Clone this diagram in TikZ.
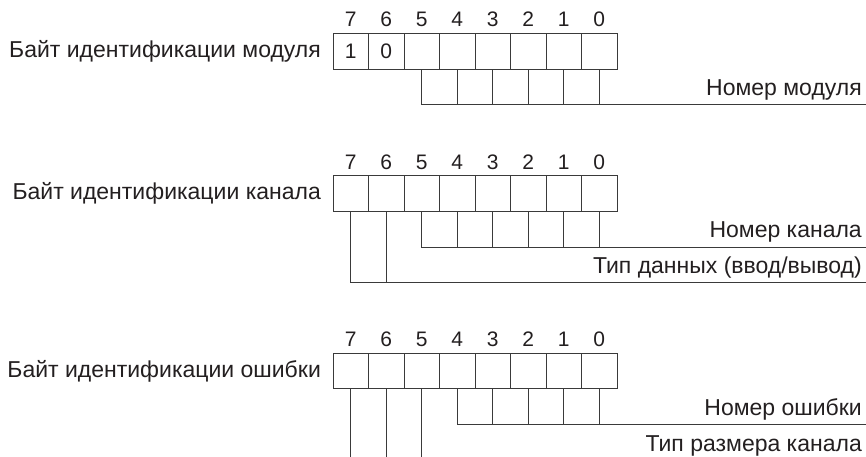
\documentclass[tikz,border=0pt]{standalone}
\usepackage{fontspec}
\setmainfont{Liberation Sans}
\definecolor{ink}{HTML}{231F20}
\definecolor{wireink}{HTML}{3A3A3A}
\begin{document}
\begin{tikzpicture}[x=1pt,y=-1pt,
  cell/.style={draw=wireink,line width=0.8pt,minimum width=35.5pt,minimum height=35.6pt,inner sep=0pt,outer sep=0pt},
  cellval/.style={anchor=base,inner sep=0pt,font=\fontsize{21}{25}\selectfont,text=ink},
  bitnum/.style={anchor=base,inner sep=0pt,font=\fontsize{21}{25}\selectfont,text=ink},
  leftlabel/.style={anchor=east,inner sep=0pt,font=\fontsize{23}{27}\selectfont,text=ink},
  rightlabel/.style={anchor=base east,inner sep=0pt,font=\fontsize{23}{27}\selectfont,text=ink},
  wire/.style={draw=wireink,line width=0.7pt}]
\useasboundingbox (0,0) rectangle (866,456);
\clip (0,0) rectangle (866,456);
% ---------- cells and bit numbers ----------
\foreach \r/\top in {1/33.5,2/175.7,3/353.2}{
  \foreach \b in {7,...,0}{
    \pgfmathsetmacro{\cx}{350.75+35.5*(7-\b)}
    \node[cell] (r\r b\b) at (\cx,\top+17.8) {};
    \node[bitnum] (n\r b\b) at (\cx,\top-6.6) {\b};
  }
}
\node[cellval] (v7) at ([yshift=-7.6pt]r1b7.center) {1};
\node[cellval] (v6) at ([yshift=-7.6pt]r1b6.center) {0};
% ---------- left labels ----------
\node[leftlabel] (L1) at (321,51.3) {Байт идентификации модуля};
\node[leftlabel] (L2) at (321,193.5) {Байт идентификации канала};
\node[leftlabel] (L3) at (321,371.0) {Байт идентификации ошибки};
% ---------- row 1 ----------
\coordinate (e1) at (866,104.8);
\draw[wire] (r1b5.south) |- (e1);
\foreach \b in {4,...,0}{\draw[wire] (r1b\b.south) -- (r1b\b.south |- e1);}
\node[rightlabel] (R1) at (862,95.5) {Номер модуля};
% ---------- row 2 ----------
\coordinate (e2a) at (866,247.3);
\coordinate (e2b) at (866,282.3);
\draw[wire] (r2b5.south) |- (e2a);
\foreach \b in {4,...,0}{\draw[wire] (r2b\b.south) -- (r2b\b.south |- e2a);}
\draw[wire] (r2b7.south) |- (e2b);
\draw[wire] (r2b6.south) -- (r2b6.south |- e2b);
\node[rightlabel] (R2a) at (862,237.5) {Номер канала};
\node[rightlabel] (R2b) at (862,273.0) {Тип данных (ввод/вывод)};
% ---------- row 3 ----------
\coordinate (e3) at (866,424.8);
\coordinate (e3b) at (866,470);
\draw[wire] (r3b4.south) |- (e3);
\foreach \b in {3,...,0}{\draw[wire] (r3b\b.south) -- (r3b\b.south |- e3);}
\foreach \b in {7,6,5}{\draw[wire] (r3b\b.south) -- (r3b\b.south |- e3b);}
\node[rightlabel] (R3a) at (862,415.0) {Номер ошибки};
\node[rightlabel] (R3b) at (862,451.5) {Тип размера канала};
\end{tikzpicture}
\end{document}
